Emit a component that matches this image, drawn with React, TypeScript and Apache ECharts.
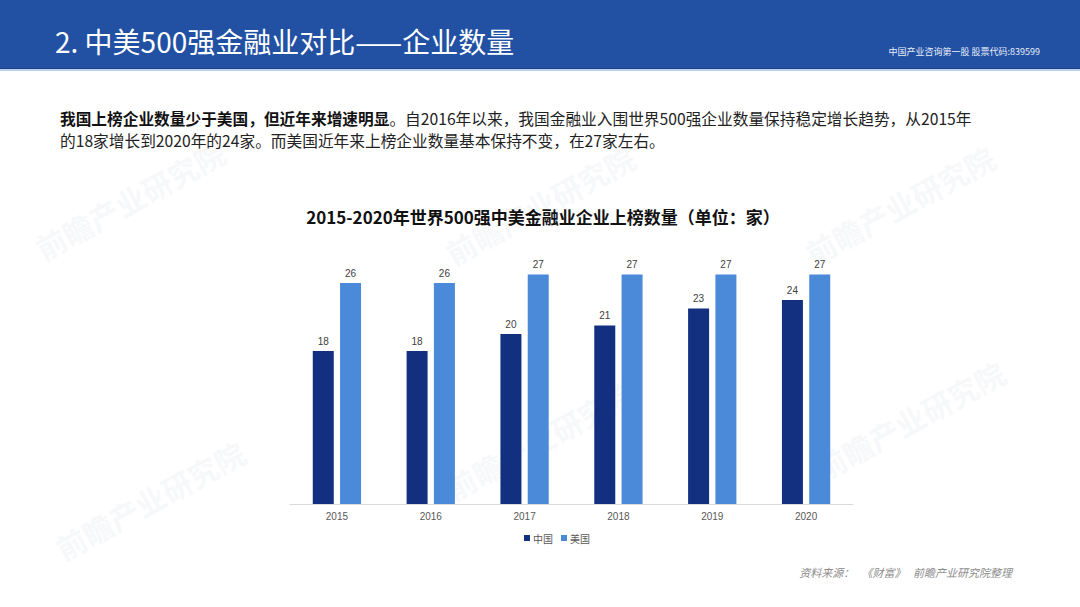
import React, { useEffect, useRef } from "react";
import * as echarts from "echarts";

const years = ["2015", "2016", "2017", "2018", "2019", "2020"];
const chinaCounts = [18, 18, 20, 21, 23, 24];
const usCounts = [26, 26, 27, 27, 27, 27];
const seriesNames = ["中国", "美国"];

const headerTitle = "2. 中美500强金融业对比——企业数量";
const headerRight = "中国产业咨询第一股 股票代码:839599";
const bodyBold = "我国上榜企业数量少于美国，但近年来增速明显";
const bodyRest1 = "。自2016年以来，我国金融业入围世界500强企业数量保持稳定增长趋势，从2015年";
const bodyLine2 = "的18家增长到2020年的24家。而美国近年来上榜企业数量基本保持不变，在27家左右。";
const chartTitle = "2015-2020年世界500强中美金融业企业上榜数量（单位：家）";
const sourceText = "资料来源：   《财富》   前瞻产业研究院整理";

const FONT = "'Liberation Sans', 'Noto Sans CJK SC', sans-serif";
const CJK = "'Noto Sans CJK SC', 'Liberation Sans', sans-serif";

const watermarkPos = [
  [130, 200], [540, 205], [900, 205], [150, 500], [540, 440], [910, 420],
];

export default function App() {
  const ref = useRef<HTMLDivElement>(null);
  useEffect(() => {
    document.body.style.margin = "0";
    const chart = echarts.init(ref.current!, null, { renderer: "svg" });
    const watermarks = watermarkPos.map(([x, y]) => ({
      type: "text",
      x,
      y,
      rotation: 0.5,
      silent: true,
      z: 0,
      style: {
        text: "前瞻产业研究院",
        font: `bold 30px ${CJK}`,
        fill: "rgba(215,222,232,0.2)",
        align: "center",
        verticalAlign: "middle",
      },
    }));
    chart.setOption({
      animation: false,
      backgroundColor: "#ffffff",
      textStyle: { fontFamily: FONT },
      graphic: [
        ...watermarks,
        { type: "rect", shape: { x: 0, y: 0, width: 1080, height: 69 }, style: { fill: "#2251a4" } },
        { type: "rect", shape: { x: 0, y: 68, width: 1080, height: 1 }, style: { fill: "#1d3f80" } },
        { type: "rect", shape: { x: 0, y: 69, width: 1080, height: 2 }, style: { fill: "#b9d1ee" } },
        {
          type: "text",
          x: 55,
          y: 41,
          style: { text: headerTitle, font: `28px ${CJK}`, fill: "#ffffff", verticalAlign: "middle" },
        },
        {
          type: "text",
          x: 1040,
          y: 51,
          style: { text: headerRight, font: `9px ${CJK}`, fill: "#e8eefa", align: "right", verticalAlign: "middle" },
        },
        {
          type: "text",
          x: 60,
          y: 118,
          style: {
            text: `{b|${bodyBold}}{n|${bodyRest1}}`,
            verticalAlign: "middle",
            rich: {
              b: { font: `bold 15.7px ${CJK}`, fill: "#111111" },
              n: { font: `15.7px ${CJK}`, fill: "#222222" },
            },
          },
        },
        {
          type: "text",
          x: 60,
          y: 140,
          style: { text: bodyLine2, font: `15.7px ${CJK}`, fill: "#222222", verticalAlign: "middle" },
        },
        {
          type: "text",
          x: 543,
          y: 216,
          style: { text: chartTitle, font: `bold 17px ${CJK}`, fill: "#111111", align: "center", verticalAlign: "middle" },
        },
        {
          type: "text",
          x: 1012,
          y: 572,
          style: { text: sourceText, font: `italic 11px ${CJK}`, fill: "#8c8c8c", align: "right", verticalAlign: "middle" },
        },
      ],
      legend: {
        data: seriesNames,
        left: 519,
        top: 528,
        itemWidth: 6,
        itemHeight: 6,
        itemGap: 8,
        icon: "rect",
        textStyle: { fontSize: 10, color: "#595959", fontFamily: CJK, padding: [0, 0, 0, -2] },
      },
      grid: { left: 290, right: 227, top: 249, bottom: 103 },
      xAxis: {
        type: "category",
        data: years,
        axisLine: { lineStyle: { color: "#d9d9d9" } },
        axisTick: { show: false },
        axisLabel: { fontSize: 10, color: "#595959", margin: 7 },
      },
      yAxis: {
        type: "value",
        min: 0,
        max: 30,
        show: false,
        splitLine: { show: false },
      },
      series: [
        {
          name: seriesNames[0],
          type: "bar",
          data: chinaCounts,
          barWidth: 21,
          barGap: "30%",
          itemStyle: { color: "#12307f" },
          label: { show: true, position: "top", distance: 5, fontSize: 10, color: "#404040" },
        },
        {
          name: seriesNames[1],
          type: "bar",
          data: usCounts,
          barWidth: 21,
          itemStyle: { color: "#4a8ad8" },
          label: { show: true, position: "top", distance: 5, fontSize: 10, color: "#404040" },
        },
      ],
    });
    return () => chart.dispose();
  }, []);
  return <div ref={ref} style={{ width: 1080, height: 607, position: "absolute", left: 0, top: 0 }} />;
}
